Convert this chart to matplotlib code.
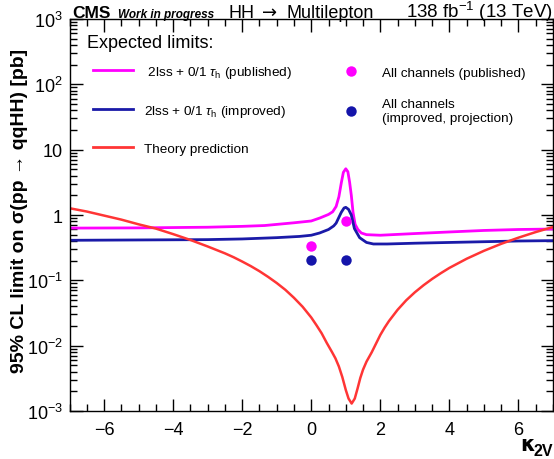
import numpy as np
import matplotlib
matplotlib.use("Agg")
from matplotlib import pyplot as plt
from matplotlib.lines import Line2D
from matplotlib.ticker import FixedLocator, LogLocator, NullFormatter, MultipleLocator

plt.rcParams['font.family'] = ['Liberation Sans', 'DejaVu Sans']
plt.rcParams['mathtext.fontset'] = 'custom'
plt.rcParams['mathtext.rm'] = 'Liberation Sans'
plt.rcParams['mathtext.it'] = 'Liberation Sans:italic'
plt.rcParams['mathtext.bf'] = 'Liberation Sans:bold'

MAGENTA = '#ff00ff'
BLUE = '#1a1aa8'
DOTBLUE = '#1414aa'
RED = '#ff3535'

# 2lss + 0/1 tau_h, published expected limit
k_pub = [-7, -5, -3, -2, -1.35, -0.5, 0, 0.25, 0.5, 0.62, 0.72, 0.8, 0.87, 0.93, 1.0,
         1.06, 1.11, 1.16, 1.21, 1.27, 1.35, 1.45, 1.6, 2, 3, 4, 5, 6, 7]
lim_pub = [0.63, 0.635, 0.65, 0.67, 0.69, 0.76, 0.81, 0.90, 1.02, 1.12, 1.35, 1.9, 3.1, 4.5, 5.1,
           4.6, 3.2, 2.0, 1.1, 0.72, 0.60, 0.53, 0.50, 0.49, 0.52, 0.55, 0.58, 0.60, 0.61]

# 2lss + 0/1 tau_h, improved expected limit
k_imp = [-7, -5, -3, -2, -1, -0.34, 0, 0.24, 0.5, 0.65, 0.72, 0.8, 0.87, 0.95, 1.0,
         1.08, 1.16, 1.25, 1.4, 1.6, 1.8, 2.2, 3, 4, 5, 6, 7]
lim_imp = [0.41, 0.415, 0.42, 0.43, 0.45, 0.47, 0.49, 0.53, 0.60, 0.68, 0.75, 0.92, 1.1, 1.28, 1.31,
           1.22, 1.0, 0.62, 0.45, 0.38, 0.36, 0.36, 0.37, 0.38, 0.39, 0.40, 0.405]

# theory prediction
k_th = [-7, -6.5, -6, -5.5, -5, -4.5, -4, -3.5, -3, -2.5, -2.25, -2, -1.75, -1.5, -1.25,
        -1, -0.75, -0.5, -0.25, 0, 0.15, 0.3, 0.45, 0.6, 0.7, 0.8, 0.9, 1.0, 1.08, 1.17,
        1.26, 1.34, 1.42, 1.5, 1.6, 1.75, 2.0, 2.125, 2.25, 2.5, 2.75, 3.0, 3.25, 3.5,
        3.75, 4.0, 4.5, 5.0, 5.5, 6.0, 6.5, 7.0]
xs_th = [1.27, 1.13, 0.98, 0.85, 0.72, 0.62, 0.51, 0.415, 0.33, 0.259, 0.226, 0.194, 0.165,
         0.138, 0.113, 0.091, 0.0716, 0.054, 0.0394, 0.027, 0.0206, 0.0155, 0.0110, 0.0080,
         0.0064, 0.0048, 0.0033, 0.0021, 0.00155, 0.0013, 0.00155, 0.0022, 0.0032, 0.0043,
         0.0057, 0.0079, 0.0146, 0.0189, 0.0238, 0.0354, 0.0495, 0.0656, 0.084, 0.105,
         0.1285, 0.155, 0.214, 0.283, 0.362, 0.45, 0.548, 0.655]

# all channels
k_all = [0, 1]
all_pub = [0.34, 0.82]
all_imp = [0.205, 0.205]

fig = plt.figure(figsize=(5.54, 4.60), dpi=100)
ax = fig.add_axes([69.5/554, 1 - 412/460, 483.5/554, 392/460])

ax.plot(k_pub, lim_pub, color=MAGENTA, lw=2.0)
ax.plot(k_imp, lim_imp, color=BLUE, lw=2.0)
ax.plot(k_th, xs_th, color=RED, lw=1.8)
ax.plot(k_all, all_pub, 'o', color=MAGENTA, ms=7.5, mec='none')
ax.plot(k_all, all_imp, 'o', color=DOTBLUE, ms=7.5, mec='none')

ax.set_yscale('log')
ax.set_xlim(-7, 7)
ax.set_ylim(1e-3, 1e3)

ax.xaxis.set_major_locator(MultipleLocator(2))
ax.xaxis.set_minor_locator(MultipleLocator(0.5))
ax.yaxis.set_major_locator(FixedLocator([1e-3, 1e-2, 1e-1, 1, 10, 1e2, 1e3]))
ax.yaxis.set_minor_locator(LogLocator(base=10, subs=np.arange(2, 10)))
ax.yaxis.set_minor_formatter(NullFormatter())
ax.set_yticklabels([r'$10^{-3}$', r'$10^{-2}$', r'$10^{-1}$', '1', '10', r'$10^{2}$', r'$10^{3}$'])

ax.tick_params(which='both', direction='in', top=True, right=True, width=1.0)
ax.tick_params(which='major', length=9, labelsize=13)
ax.tick_params(axis='x', which='major', pad=7)
ax.tick_params(axis='y', which='major', pad=5)
ax.tick_params(which='minor', length=5)
for s in ax.spines.values():
    s.set_linewidth(1.0)

ax.set_ylabel('95% CL limit on σ(pp → qqHH) [pb]', fontsize=14, fontweight='bold')
ax.yaxis.set_label_coords(-0.086, 0.513)

# x title: kappa_2V
fig.text(535/554, 1 - 451/460, 'κ', fontsize=15, fontweight='bold',
         family='DejaVu Sans', ha='right', va='baseline')
fig.text(553/554, 1 - 456/460, '2V', fontsize=11.5, fontweight='bold',
         ha='right', va='baseline')

# header
fig.text(72/554, 1 - 18/460, 'CMS', fontsize=12.5, fontweight='bold', va='baseline')
fig.text(118/554, 1 - 18/460, 'Work in progress', fontsize=8.5, fontweight='bold',
         style='italic', va='baseline')
fig.text(228/554, 1 - 18/460, 'HH', fontsize=13, va='baseline')
fig.text(270/554, 1 - 18/460, '→', fontsize=13, family='DejaVu Sans', va='baseline', ha='center')
fig.text(287/554, 1 - 18/460, 'Multilepton', fontsize=13, va='baseline')
fig.text(553/554, 1 - 18/460, r'138 fb$^{-1}$ (13 TeV)', fontsize=13.5, va='baseline', ha='right')

# legend
fig.text(87/554, 1 - 43/460, 'Expected limits:', fontsize=13, va='center')
h1 = [Line2D([], [], color=MAGENTA, lw=2.0),
      Line2D([], [], color=BLUE, lw=2.0),
      Line2D([], [], color=RED, lw=2.0)]
l1 = [r' 2lss + 0/1 $\tau_{\mathrm{h}}$ (published)',
      r'2lss + 0/1 $\tau_{\mathrm{h}}$ (improved)',
      'Theory prediction']
leg1 = ax.legend(h1, l1, loc='upper left', bbox_to_anchor=(93/554, 1 - 64.7/460),
                 bbox_transform=fig.transFigure, frameon=False, fontsize=9.7,
                 handlelength=3.0, handletextpad=0.75, labelspacing=1.74, borderpad=0,
                 borderaxespad=0)
ax.add_artist(leg1)
h2 = [Line2D([], [], color=MAGENTA, marker='o', ls='none', ms=7.5, mec='none'),
      Line2D([], [], color=DOTBLUE, marker='o', ls='none', ms=7.5, mec='none')]
l2 = ['All channels (published)', 'All channels\n(improved, projection)']
leg2 = ax.legend(h2, l2, loc='upper left', bbox_to_anchor=(331/554, 1 - 67.7/460),
                 bbox_transform=fig.transFigure, frameon=False, fontsize=9.7,
                 handlelength=3.0, handletextpad=0.75, labelspacing=1.4, borderpad=0,
                 borderaxespad=0)

fig.savefig('out.png', dpi=100)
